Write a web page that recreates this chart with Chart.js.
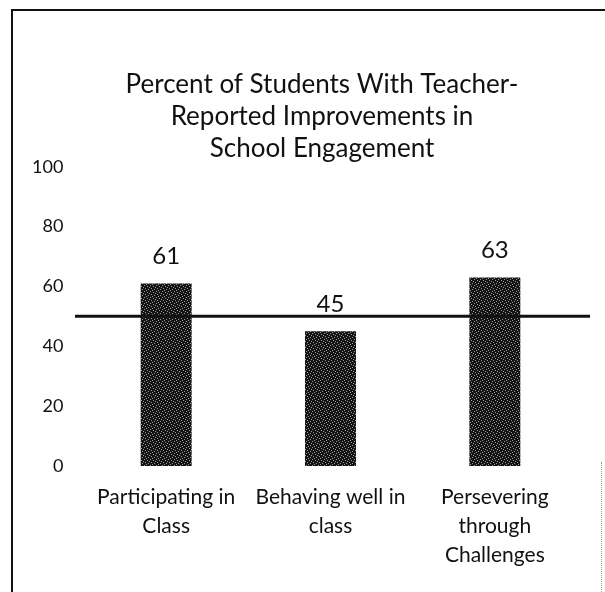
<!DOCTYPE html>
<html>
<head>
<meta charset="utf-8">
<script src="https://cdn.jsdelivr.net/npm/chart.js"></script>
<style>
  html, body { margin: 0; padding: 0; background: #fff; }
  #wrap { position: relative; width: 605px; height: 592px; overflow: hidden; }
  #frame { position: absolute; left: 11px; top: 9px; width: 600px; height: 600px;
           border-left: 2px solid #111; border-top: 2px solid #111; }
  #edge { position: absolute; left: 601px; top: 462px; width: 0; height: 130px;
          border-left: 1px dotted #999; }
  canvas { position: absolute; left: 0; top: 0; }
</style>
</head>
<body>
<div id="wrap">
  <div id="frame"></div>
  <div id="edge"></div>
  <canvas id="chart" width="605" height="592"></canvas>
</div>
<script>
// Chart data
const titleLines = ['Percent of Students With Teacher-', 'Reported Improvements in', 'School Engagement'];
const categories = [
  ['Participating in', 'Class'],
  ['Behaving well in', 'class'],
  ['Persevering', 'through', 'Challenges']
];
const percentImproved = [61, 45, 63];
const referenceLevel = 50;
const yMax = 100;
const yStep = 20;

const FONT = 'Lato, "Open Sans", sans-serif';

// stippled dark fill like the scanned bars
function makeStipple() {
  const c = document.createElement('canvas');
  c.width = 6; c.height = 6;
  const g = c.getContext('2d');
  g.fillStyle = '#141414';
  g.fillRect(0, 0, 6, 6);
  g.fillStyle = '#9a9a9a';
  [[1, 0], [4, 1], [0, 3], [3, 4], [5, 5], [2, 2]].forEach(p => g.fillRect(p[0], p[1], 1, 1));
  return g.createPattern(c, 'repeat');
}

// value labels above each bar
const barLabels = {
  id: 'barLabels',
  afterDatasetsDraw(chart) {
    const ctx = chart.ctx;
    const meta = chart.getDatasetMeta(0);
    ctx.save();
    ctx.font = '24px ' + FONT;
    ctx.fillStyle = '#111';
    ctx.textAlign = 'center';
    ctx.textBaseline = 'middle';
    meta.data.forEach((bar, i) => {
      ctx.fillText(String(percentImproved[i]), bar.x, bar.y - 27);
    });
    ctx.restore();
  }
};

// horizontal reference line across the plot
const refLine = {
  id: 'refLine',
  afterDatasetsDraw(chart) {
    const ctx = chart.ctx;
    const area = chart.chartArea;
    const y = chart.scales.y.getPixelForValue(referenceLevel);
    ctx.save();
    ctx.strokeStyle = '#111';
    ctx.lineWidth = 3;
    ctx.beginPath();
    ctx.moveTo(area.left - 9, y);
    ctx.lineTo(area.right + 13, y);
    ctx.stroke();
    ctx.restore();
  }
};

new Chart(document.getElementById('chart').getContext('2d'), {
  type: 'bar',
  data: {
    labels: categories,
    datasets: [{
      data: percentImproved,
      backgroundColor: makeStipple(),
      borderWidth: 0,
      barPercentage: 0.31,
      categoryPercentage: 1
    }]
  },
  options: {
    responsive: false,
    animation: false,
    layout: { padding: { left: 67, right: 28, top: 68, bottom: 0 } },
    plugins: {
      legend: { display: false },
      tooltip: { enabled: false },
      title: {
        display: true,
        text: titleLines,
        color: '#111',
        font: { family: FONT, size: 26, weight: 'normal', lineHeight: 1.24 },
        padding: { top: 0, bottom: 2 }
      }
    },
    scales: {
      x: {
        grid: { display: false, drawTicks: false },
        border: { display: false },
        ticks: {
          color: '#111',
          padding: 17,
          maxRotation: 0,
          autoSkip: false,
          font: { family: FONT, size: 21, lineHeight: 1.38 }
        },
        afterFit(scale) { scale.height = 126; }
      },
      y: {
        min: 0,
        max: yMax,
        grid: { display: false, drawTicks: false },
        border: { display: false },
        ticks: {
          stepSize: yStep,
          autoSkip: false,
          color: '#111',
          // mirrored so the labels are not clipped to the narrow axis box
          mirror: true,
          crossAlign: 'far',
          padding: -52,
          font: { family: FONT, size: 18 }
        },
        afterFit(scale) { scale.width = 17; }
      }
    }
  },
  plugins: [barLabels, refLine]
});
</script>
</body>
</html>
